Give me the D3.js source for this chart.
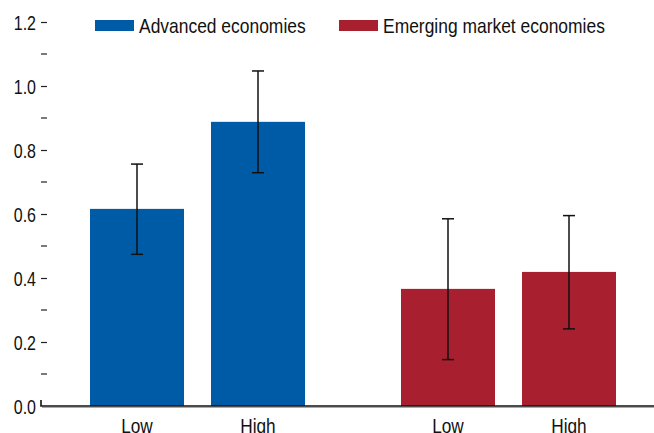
<!DOCTYPE html>
<html>
<head>
<meta charset="utf-8">
<script src="https://cdn.jsdelivr.net/npm/d3@7"></script>
<style>
  body { margin: 0; background: #fff; }
  svg text { font-family: "Liberation Sans", Arial, sans-serif; fill: #111; }
</style>
</head>
<body>
<svg></svg>
<script>
// data
var groups = ["Advanced economies", "Emerging market economies"]
var levels = ["Low", "High"]
var advValues = [0.616, 0.888]
var advLower  = [0.474, 0.729]
var advUpper  = [0.756, 1.047]
var emValues  = [0.366, 0.419]
var emLower   = [0.145, 0.241]
var emUpper   = [0.585, 0.595]
var colors = ["#005ba6", "#a81f2f"]
var yTicks = [0, 0.2, 0.4, 0.6, 0.8, 1.0, 1.2]
var yMinor = [0.1, 0.3, 0.5, 0.7, 0.9, 1.1]

var screen = {width: 654, height: 433}

var rows = []
levels.forEach(function(l, i) {
    rows.push({group: groups[0], level: l, v: advValues[i], lo: advLower[i], hi: advUpper[i]})
})
levels.forEach(function(l, i) {
    rows.push({group: groups[1], level: l, v: emValues[i], lo: emLower[i], hi: emUpper[i]})
})

// no narrow font installed, so squeeze the glyphs a bit
var condense = function(sel, k) {
    sel.each(function() {
        var w = this.getComputedTextLength()
        d3.select(this).attr("textLength", w * k).attr("lengthAdjust", "spacingAndGlyphs")
    })
}

var svg = d3.select("svg")
    .attr("width", screen.width)
    .attr("height", screen.height)

var yScale = d3.scaleLinear().domain([0, 1.2]).range([406, 22])

var x0 = d3.scaleBand().domain(groups).range([90, 616]).paddingInner(96 / 311)
var x1 = d3.scaleBand().domain(levels).range([0, x0.bandwidth()]).paddingInner(27 / 121)
var color = d3.scaleOrdinal().domain(groups).range(colors)

// y axis: ticks only, no domain line
var yAxis = d3.axisLeft(yScale).tickValues(yTicks).tickSize(6).tickPadding(5)
    .tickFormat(d3.format(".1f"))
var ga = svg.append("g").attr("transform", "translate(47,0)").call(yAxis)
ga.select(".domain").remove()
ga.selectAll("text").style("font-size", "19.5px").attr("dy", "0.36em")
ga.selectAll(".tick line").attr("stroke", "#222").attr("stroke-width", 1.2)
ga.selectAll(".tick").filter(function(d) { return d === 0 }).select("line").remove()
condense(ga.selectAll("text"), 0.82)

svg.append("g").selectAll("line")
    .data(yMinor)
    .enter()
    .append("line")
    .attr("x1", 41).attr("x2", 47)
    .attr("y1", function(d) { return yScale(d) })
    .attr("y2", function(d) { return yScale(d) })
    .attr("stroke", "#222").attr("stroke-width", 1.2)

// bars
svg.append("g").selectAll("rect")
    .data(rows)
    .enter()
    .append("rect")
    .attr("x", function(d) { return x0(d.group) + x1(d.level) })
    .attr("y", function(d) { return yScale(d.v) })
    .attr("width", x1.bandwidth())
    .attr("height", function(d) { return yScale(0) - yScale(d.v) })
    .attr("fill", function(d) { return color(d.group) })

// baseline with small corner at 0
svg.append("path")
    .attr("d", "M41," + (yScale(0) - 6) + "V" + yScale(0) + "H" + screen.width)
    .attr("fill", "none").attr("stroke", "#111").attr("stroke-width", 1.6)
svg.append("line")
    .attr("x1", 42).attr("x2", screen.width)
    .attr("y1", yScale(0) + 1.5).attr("y2", yScale(0) + 1.5)
    .attr("stroke", "#aaa").attr("stroke-width", 1)

// error bars
var eb = svg.append("g").selectAll("g")
    .data(rows)
    .enter()
    .append("g")
    .attr("transform", function(d) { return "translate(" + (x0(d.group) + x1(d.level) + x1.bandwidth() / 2) + ",0)" })
eb.append("line")
    .attr("y1", function(d) { return yScale(d.lo) })
    .attr("y2", function(d) { return yScale(d.hi) })
    .attr("stroke", "#111").attr("stroke-width", 1.5)
eb.append("line")
    .attr("x1", -6).attr("x2", 6)
    .attr("y1", function(d) { return yScale(d.hi) })
    .attr("y2", function(d) { return yScale(d.hi) })
    .attr("stroke", "#111").attr("stroke-width", 1.5)
eb.append("line")
    .attr("x1", -6).attr("x2", 6)
    .attr("y1", function(d) { return yScale(d.lo) })
    .attr("y2", function(d) { return yScale(d.lo) })
    .attr("stroke", "#111").attr("stroke-width", 1.5)

// x labels
var xl = svg.append("g").selectAll("text")
    .data(rows)
    .enter()
    .append("text")
    .attr("x", function(d) { return x0(d.group) + x1(d.level) + x1.bandwidth() / 2 })
    .attr("y", 432.5)
    .attr("text-anchor", "middle")
    .style("font-size", "20.5px")
    .text(function(d) { return d.level })
condense(xl, 0.84)

// legend
var legendX = [95, 339]
var lg = svg.append("g").selectAll("g")
    .data(groups)
    .enter()
    .append("g")
    .attr("transform", function(d, i) { return "translate(" + legendX[i] + ",20)" })
lg.append("rect")
    .attr("width", 39).attr("height", 11)
    .attr("fill", function(d) { return color(d) })
var lt = lg.append("text")
    .attr("x", 44).attr("y", 12.5)
    .style("font-size", "21px")
    .text(function(d) { return d })
condense(lt, 0.83)
</script>
</body>
</html>
